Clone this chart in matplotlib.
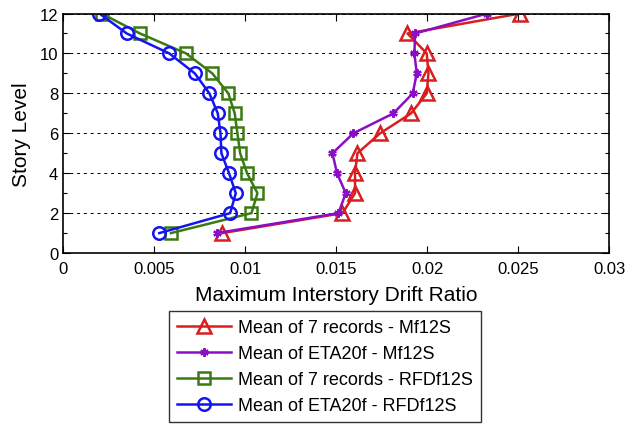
import matplotlib
matplotlib.use('Agg')
import matplotlib.pyplot as plt
from matplotlib.ticker import MultipleLocator

plt.rcParams['font.family'] = ['Liberation Sans', 'DejaVu Sans']

# 樓層
story = [1, 2, 3, 4, 5, 6, 7, 8, 9, 10, 11, 12]

# 各組平均最大層間位移角
mf12s_records = [0.00875, 0.01535, 0.01604, 0.01604, 0.01617, 0.01742, 0.01912,
                 0.01998, 0.02007, 0.01998, 0.01892, 0.0251]
mf12s_eta = [0.00844, 0.01513, 0.01553, 0.01505, 0.0148, 0.01595, 0.01815,
             0.01921, 0.01943, 0.0193, 0.01934, 0.0233]
rfd_records = [0.00593, 0.01035, 0.01068, 0.01011, 0.00973, 0.00958, 0.00943,
               0.00908, 0.0082, 0.00676, 0.00423, 0.00212]
rfd_eta = [0.00529, 0.00918, 0.00949, 0.00912, 0.0087, 0.00865, 0.0085,
           0.00804, 0.00724, 0.00584, 0.0035, 0.002]

labels = ['Mean of 7 records - Mf12S', 'Mean of ETA20f - Mf12S',
          'Mean of 7 records - RFDf12S', 'Mean of ETA20f - RFDf12S']
xtick_labels = ['0', '0.005', '0.01', '0.015', '0.02', '0.025', '0.03']

fig = plt.figure(figsize=(6.3, 4.27), dpi=100)
ax = fig.add_axes([0.1, 0.405, 0.867, 0.561])

ax.plot(mf12s_records, story, color='#d81e1e', lw=1.8, marker='^', ms=10,
        mfc='none', mew=1.8, label=labels[0])
ax.plot(mf12s_eta, story, color='#8a0fc4', lw=1.8, marker=(6, 2, 0), ms=6,
        mew=1.6, label=labels[1])
ax.plot(rfd_records, story, color='#3a7a12', lw=1.8, marker='s', ms=8.5,
        mfc='none', mew=1.8, label=labels[2])
ax.plot(rfd_eta, story, color='#1414f0', lw=1.8, marker='o', ms=9,
        mfc='none', mew=1.8, label=labels[3])

ax.set_xlim(0, 0.03)
ax.set_ylim(0, 12)
ax.set_xticks([0, 0.005, 0.01, 0.015, 0.02, 0.025, 0.03])
ax.set_xticklabels(xtick_labels)
ax.yaxis.set_major_locator(MultipleLocator(2))
ax.yaxis.set_minor_locator(MultipleLocator(1))
ax.tick_params(which='both', direction='in', top=True, right=True,
               labelsize=12, width=0.8)
ax.tick_params(which='major', length=5)
ax.tick_params(which='minor', length=3)
ax.tick_params(axis='x', pad=6)
ax.grid(axis='y', which='major', color='black', linestyle=(0, (3, 4)), lw=0.7)
for s in ax.spines.values():
    s.set_linewidth(1.2)

ax.set_xlabel('Maximum Interstory Drift Ratio', fontsize=15, labelpad=6)
ax.set_ylabel('Story Level', fontsize=15, labelpad=6)

leg = fig.legend(loc='upper center', bbox_to_anchor=(0.516, 0.27),
                 fontsize=13, handlelength=3.0, frameon=True, fancybox=False,
                 edgecolor='black', borderpad=0.45, labelspacing=0.5,
                 handletextpad=0.4, borderaxespad=0)
leg.get_frame().set_linewidth(1.0)

fig.savefig('out.png', dpi=100)
